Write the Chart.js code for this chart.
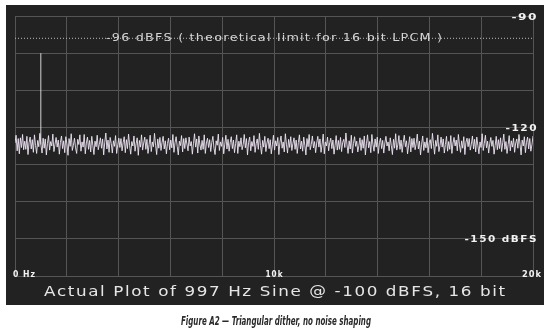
<!DOCTYPE html>
<html>
<head>
<meta charset="utf-8">
<script src="https://cdn.jsdelivr.net/npm/chart.js@4.4.1/dist/chart.umd.min.js"></script>
<style>
  html, body { margin: 0; padding: 0; background: #fff; }
</style>
</head>
<body>
<canvas id="chart" width="550" height="334"></canvas>
<script>
// tick labels shown on the plot
const xTicks = [0, 10000, 20000];
const xTickLabels = ['0 Hz', '10k', '20k'];
const yTicks = [-90, -120, -150];
const yTickLabels = ['-90', '-120', '-150 dBFS'];

// -96 dBFS reference line
const limitFreq = [0, 20000];
const limitDb = [-96, -96];
const limitLabel = '-96 dBFS ( theoretical limit for 16 bit LPCM )';

// the 997 Hz tone
const spikeFreq = [997, 997];
const spikeDb = [-124.6, -100];

// noise floor, evenly spaced from 0 Hz to 20 kHz
const noiseDb = [
  -124.2,-122.1,-126.3,-123.0,-127.1,-122.8,-125.4,-121.9,-126.0,-123.7,-125.9,-122.4,-127.3,-124.1,-122.6,-125.8,-123.3,-126.7,-122.0,-124.9,
  -127.0,-123.5,-125.2,-121.6,-124.7,-126.9,-122.9,-125.6,-123.1,-127.4,-124.3,-122.2,-126.1,-123.8,-125.0,-121.8,-126.5,-124.6,-122.7,-125.3,
  -123.4,-127.2,-124.0,-122.3,-125.7,-123.6,-126.8,-122.5,-124.4,-127.5,-123.0,-125.1,-121.7,-126.2,-124.8,-122.9,-125.5,-127.0,-123.2,-124.6,
  -122.0,-126.4,-123.9,-125.3,-121.9,-127.1,-124.2,-122.6,-125.9,-123.5,-126.6,-122.4,-124.9,-127.3,-123.7,-125.2,-122.1,-126.0,-124.5,-122.8,
  -125.6,-123.1,-127.4,-124.0,-121.5,-125.8,-123.4,-126.7,-122.7,-124.3,-126.9,-123.6,-125.1,-122.2,-127.0,-124.7,-122.9,-125.4,-123.0,-126.3,
  -124.1,-122.5,-126.8,-123.3,-125.7,-121.8,-124.9,-127.2,-123.8,-125.0,-122.3,-126.4,-124.4,-122.8,-127.5,-123.5,-125.3,-122.0,-126.1,-124.2,
  -122.6,-125.9,-123.2,-127.0,-124.6,-122.1,-126.5,-123.9,-125.2,-121.6,-124.8,-127.3,-123.1,-125.6,-122.7,-126.2,-124.0,-122.4,-125.8,-123.6,
  -127.1,-124.3,-122.9,-126.0,-123.4,-125.5,-121.9,-126.7,-124.1,-122.5,-125.1,-127.4,-123.7,-124.9,-122.2,-126.6,-123.0,-125.7,-122.8,-124.5,
  -126.3,-122.6,-125.0,-123.8,-127.2,-124.4,-121.7,-125.3,-123.1,-126.9,-122.3,-124.7,-126.1,-123.5,-125.9,-122.0,-127.0,-124.2,-122.9,-125.4,
  -123.3,-126.5,-124.0,-122.4,-125.6,-127.3,-123.6,-124.8,-121.8,-126.2,-123.9,-125.1,-122.7,-127.1,-124.5,-122.1,-125.8,-123.2,-126.4,-124.1,
  -122.5,-125.7,-123.4,-126.8,-124.3,-122.0,-127.0,-123.7,-125.2,-122.8,-126.0,-124.6,-121.9,-125.5,-123.0,-127.4,-124.0,-122.6,-126.3,-123.8,
  -125.1,-122.2,-126.7,-124.4,-123.1,-125.9,-121.6,-124.9,-127.2,-123.5,-125.3,-122.4,-126.5,-124.2,-122.9,-125.7,-123.3,-127.1,-124.7,-122.1,
  -126.1,-123.6,-125.0,-122.7,-127.3,-124.0,-122.3,-125.6,-123.9,-126.6,-121.7,-124.5,-126.9,-123.2,-125.4,-122.5,-126.2,-124.3,-122.8,-125.9,
  -123.4,-127.0,-124.1,-122.0,-125.8,-123.7,-126.4,-122.6,-124.8,-127.4,-123.0,-125.2,-121.9,-126.0,-124.6,-122.3,-125.5,-123.8,-126.8,-124.2,
  -122.4,-125.3,-123.1,-126.7,-124.5,-121.8,-127.1,-123.9,-125.0,-122.6,-126.3,-124.1,-122.9,-125.7,-123.4,-127.2,-124.8,-122.2,-126.1,-123.5,
  -125.9,-122.7,-126.5,-124.0,-123.2,-125.4,-121.5,-124.7,-127.0,-123.6,-125.8,-122.1,-126.9,-124.3,-122.5,-125.1,-123.7,-126.6,-124.9,-122.8,
  -126.2,-123.3,-125.6,-122.3,-127.4,-124.4,-122.0,-125.5,-123.8,-126.8,-121.9,-124.6,-126.4,-123.1,-125.3,-122.6,-127.0,-124.1,-122.9,-125.7,
  -123.5,-126.9,-124.2,-122.4,-125.0,-123.9,-126.3,-122.8,-124.9,-127.3,-123.2,-125.6,-121.7,-126.1,-124.7,-122.2,-125.9,-123.4,-126.7,-124.0,
  -122.1,-125.2,-123.6,-127.1,-124.8,-122.5,-126.6,-123.0,-125.4,-122.9,-126.0,-124.3,-121.8,-125.8,-123.7,-127.4,-124.5,-122.3,-126.2,-123.9,
  -125.5,-122.8,-126.8,-124.1,-123.3,-125.7,-121.6,-124.4,-127.2,-123.5,-125.1,-122.0,-126.5,-124.9,-122.6,-125.3,-123.1,-126.9,-124.6,-122.4,
  -126.4,-123.8,-125.9,-122.2,-127.0,-124.2,-122.7,-125.0,-123.4,-126.3,-121.9,-124.7,-126.7,-123.6,-125.6,-122.5,-127.3,-124.0,-122.9,-125.2,
  -123.0,-126.1,-124.5,-122.3,-125.8,-123.2,-126.6,-122.6,-124.8,-127.1,-123.9,-125.4,-121.7,-126.2,-124.3,-122.1,-125.5,-123.7,-126.9,-124.4,
  -122.7,-125.1,-123.5,-127.2,-124.9,-122.4,-126.0,-123.3,-125.7,-122.8,-126.5,-124.1,-121.8,-125.9,-123.8,-127.0,-124.6,-122.2,-126.3,-123.6,
  -125.3,-122.9,-126.7,-124.2,-123.1,-125.6,-121.9,-124.5,-127.4,-123.4,-125.0,-122.5,-126.8,-124.0,-122.6,-125.8,-123.0,-126.4,-124.7,-122.3
];
const noiseStepHz = 20000 / (noiseDb.length - 1);

const title = 'Actual Plot of 997 Hz Sine @ -100 dBFS, 16 bit';
const caption = 'Figure A2 \u2014 Triangular dither, no noise shaping';

// wide display face: stretch glyphs horizontally, keep a fixed gap between letters
function wideText(ctx, text, x, y, width, align, gap) {
  const chars = [...text];
  const widths = chars.map(c => ctx.measureText(c).width);
  const natural = widths.reduce((a, b) => a + b, 0);
  const sx = (width - gap * (chars.length - 1)) / natural;
  const x0 = align === 'center' ? x - width / 2 : align === 'right' ? x - width : x;
  ctx.save();
  ctx.translate(x0, y);
  ctx.scale(sx, 1);
  ctx.textAlign = 'left';
  let cx = 0;
  chars.forEach((c, i) => {
    ctx.fillText(c, cx, 0);
    cx += widths[i] + gap / sx;
  });
  ctx.restore();
}

const panelPlugin = {
  id: 'panel',
  beforeDraw(chart) {
    const ctx = chart.ctx;
    ctx.save();
    ctx.fillStyle = '#ffffff';
    ctx.fillRect(0, 0, chart.width, chart.height);
    ctx.fillStyle = '#222222';
    ctx.fillRect(6, 5, 538, 300);
    ctx.restore();
  },
  afterDraw(chart) {
    const ctx = chart.ctx;
    const xs = chart.scales.x;
    const ys = chart.scales.y;
    const area = chart.chartArea;
    ctx.save();
    ctx.textBaseline = 'alphabetic';

    // y tick labels, inside the plot on the right
    ctx.fillStyle = '#f2f2f2';
    ctx.font = 'bold 9px "DejaVu Sans"';
    const yWidths = [25, 31, 72];
    yTicks.forEach((v, i) => {
      wideText(ctx, yTickLabels[i], area.right + 3.5, ys.getPixelForValue(v) + 3.5, yWidths[i], 'right', 1.5);
    });

    // x tick labels, just above the bottom line
    const xWidths = [22, 17, 19];
    const xb = ys.getPixelForValue(-160) + 1;
    wideText(ctx, xTickLabels[0], xs.getPixelForValue(xTicks[0]) - 2, xb, xWidths[0], 'left', 1);
    wideText(ctx, xTickLabels[1], xs.getPixelForValue(xTicks[1]), xb, xWidths[1], 'center', 1);
    wideText(ctx, xTickLabels[2], xs.getPixelForValue(xTicks[2]) + 8, xb, xWidths[2], 'right', 1);

    // reference line label
    ctx.fillStyle = '#d4d4d4';
    ctx.font = '10px "DejaVu Sans"';
    wideText(ctx, limitLabel, (area.left + area.right) / 2, ys.getPixelForValue(limitDb[0]) + 2.5, 336, 'center', 1.2);

    // title along the bottom of the panel
    ctx.fillStyle = '#e6e6e6';
    ctx.font = '14px "DejaVu Sans"';
    wideText(ctx, title, 274.5, 296, 461, 'center', 1.6);

    // caption under the panel
    ctx.fillStyle = '#2a2a2a';
    ctx.font = 'italic bold 12px "Liberation Sans Narrow", "DejaVu Sans Condensed", sans-serif';
    const cw = ctx.measureText(caption).width;
    ctx.save();
    ctx.translate(276, 325);
    ctx.scale(190 / cw, 1);
    ctx.textAlign = 'center';
    ctx.fillText(caption, 0, 0);
    ctx.restore();

    ctx.restore();
  }
};

new Chart(document.getElementById('chart'), {
  type: 'line',
  data: {
    datasets: [
      {
        label: 'noise',
        data: noiseDb.map((v, i) => ({ x: i * noiseStepHz, y: v })),
        borderColor: 'rgba(238,228,244,0.9)',
        borderWidth: 1,
        pointRadius: 0,
        tension: 0
      },
      {
        label: '997 Hz',
        data: spikeFreq.map((f, i) => ({ x: f, y: spikeDb[i] })),
        borderColor: 'rgba(230,230,230,0.9)',
        borderWidth: 1,
        pointRadius: 0
      },
      {
        label: 'limit',
        data: limitFreq.map((f, i) => ({ x: f, y: limitDb[i] })),
        borderColor: '#bdbdbd',
        borderWidth: 1,
        borderDash: [1, 2],
        pointRadius: 0
      }
    ]
  },
  options: {
    responsive: false,
    animation: false,
    devicePixelRatio: 1,
    layout: { padding: { left: 15, right: 17, top: 16, bottom: 58 } },
    plugins: {
      legend: { display: false },
      tooltip: { enabled: false },
      title: { display: false }
    },
    scales: {
      x: {
        type: 'linear',
        min: 0,
        max: 20000,
        ticks: { display: false, stepSize: 2000 },
        grid: { color: '#555555', lineWidth: 1, drawTicks: false },
        border: { display: true, color: '#555555' }
      },
      y: {
        type: 'linear',
        min: -160,
        max: -90,
        ticks: { display: false, stepSize: 10 },
        grid: { color: '#555555', lineWidth: 1, drawTicks: false },
        border: { display: true, color: '#555555' }
      }
    }
  },
  plugins: [panelPlugin]
});
</script>
</body>
</html>
